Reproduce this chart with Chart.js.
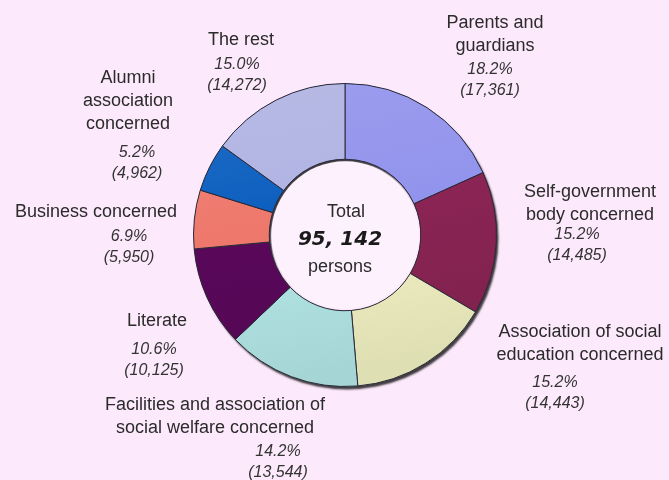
<!DOCTYPE html>
<html>
<head>
<meta charset="utf-8">
<script src="https://cdn.jsdelivr.net/npm/chart.js@4/dist/chart.umd.min.js"></script>
<style>
  html, body { margin: 0; padding: 0; background: #fce9fb; }
  #wrap { width: 669px; height: 480px; }
</style>
</head>
<body>
<div id="wrap"><canvas id="ringChart" width="669" height="480"></canvas></div>
<script>
// Chart data
const categories = [
    ['Parents and', 'guardians'],
    ['Self-government', 'body concerned'],
    ['Association of social', 'education concerned'],
    ['Facilities and association of', 'social welfare concerned'],
    ['Literate'],
    ['Business concerned'],
    ['Alumni', 'association', 'concerned'],
    ['The rest']
];
const persons = [17361, 14485, 14443, 13544, 10125, 5950, 4962, 14272];
const percents = ['18.2%', '15.2%', '15.2%', '14.2%', '10.6%', '6.9%', '5.2%', '15.0%'];
const totalText = '95, 142';

const sliceColors = ['#9293ec', '#8a2454', '#f2f2c4', '#b4e8e8', '#5a085a', '#ee786c', '#0b5ebf', '#b0b2e2'];

// label placement, offsets from ring centre: [name x, name y, pct x, pct y]
const labelPos = [
    [150, -212, 145, -165],
    [245, -43, 232, 0],
    [235, 97, 210, 148],
    [-130, 170, -67, 217],
    [-188, 86, -191, 115],
    [-249, -23, -216, 2],
    [-217, -157, -208, -82],
    [-104, -195, -108, -170]
];

function shade(hex, amt) {
    const n = parseInt(hex.slice(1), 16);
    let r = (n >> 16) & 255, g = (n >> 8) & 255, b = n & 255;
    const f = c => Math.max(0, Math.min(255, Math.round(amt > 0 ? c + (255 - c) * amt : c * (1 + amt))));
    return `rgb(${f(r)}, ${f(g)}, ${f(b)})`;
}

function sliceFill(context) {
    const base = sliceColors[context.dataIndex];
    const area = context.chart.chartArea;
    if (!area) return base;
    const g = context.chart.ctx.createLinearGradient(area.left, area.top, area.left + 60, area.bottom);
    g.addColorStop(0, shade(base, 0.1));
    g.addColorStop(0.5, base);
    g.addColorStop(1, shade(base, -0.08));
    return g;
}

// dark shadow under the ring for the 3D look
const ringShadow = {
    id: 'ringShadow',
    beforeDatasetsDraw(chart) {
        const arc = chart.getDatasetMeta(0).data[0];
        if (!arc) return;
        const ctx = chart.ctx;
        ctx.save();
        ctx.beginPath();
        ctx.arc(arc.x, arc.y, arc.outerRadius, 0, Math.PI * 2);
        ctx.arc(arc.x, arc.y, arc.innerRadius, 0, Math.PI * 2, true);
        ctx.fillStyle = '#222';
        ctx.shadowColor = 'rgba(0, 0, 0, 0.75)';
        ctx.shadowBlur = 2;
        ctx.shadowOffsetX = 2;
        ctx.shadowOffsetY = 3;
        ctx.fill();
        ctx.restore();
        // slightly lighter hole
        ctx.save();
        ctx.beginPath();
        ctx.arc(arc.x, arc.y, arc.innerRadius - 2, 0, Math.PI * 2);
        ctx.fillStyle = '#fdf1fd';
        ctx.fill();
        ctx.restore();
    }
};

// centre text and outside labels
const ringLabels = {
    id: 'ringLabels',
    afterDraw(chart) {
        const arc = chart.getDatasetMeta(0).data[0];
        if (!arc) return;
        const ctx = chart.ctx;
        const cx = arc.x, cy = arc.y;
        ctx.save();
        ctx.textAlign = 'center';
        ctx.textBaseline = 'middle';
        ctx.fillStyle = '#2b2b2b';

        ctx.font = '18px "Liberation Sans", Arial, sans-serif';
        ctx.fillText('Total', cx + 1, cy - 23);
        ctx.fillText('persons', cx - 5, cy + 32);
        ctx.font = 'italic bold 20px "DejaVu Sans", sans-serif';
        ctx.fillStyle = '#1a1a1a';
        ctx.fillText(totalText, cx - 5, cy + 5);

        categories.forEach((lines, i) => {
            const p = labelPos[i];
            ctx.fillStyle = '#2b2b2b';
            ctx.font = '18px "Liberation Sans", Arial, sans-serif';
            lines.forEach((t, k) => ctx.fillText(t, cx + p[0], cy + p[1] + k * 23));
            ctx.font = 'italic 16px "Liberation Sans", Arial, sans-serif';
            ctx.fillStyle = '#333';
            ctx.fillText(percents[i], cx + p[2], cy + p[3]);
            ctx.fillText('(' + persons[i].toLocaleString('en-US') + ')', cx + p[2], cy + p[3] + 21);
        });
        ctx.restore();
    }
};

const ctx = document.getElementById('ringChart').getContext('2d');
new Chart(ctx, {
    type: 'doughnut',
    data: {
        labels: categories.map(l => l.join(' ')),
        datasets: [{
            data: persons,
            backgroundColor: sliceFill,
            borderColor: '#2a2a3a',
            borderWidth: 1,
            hoverOffset: 0
        }]
    },
    options: {
        responsive: false,
        animation: false,
        cutout: '50%',
        layout: { padding: { left: 193, right: 172, top: 83, bottom: 93 } },
        plugins: {
            legend: { display: false },
            tooltip: { enabled: false }
        }
    },
    plugins: [ringShadow, ringLabels]
});
</script>
</body>
</html>
